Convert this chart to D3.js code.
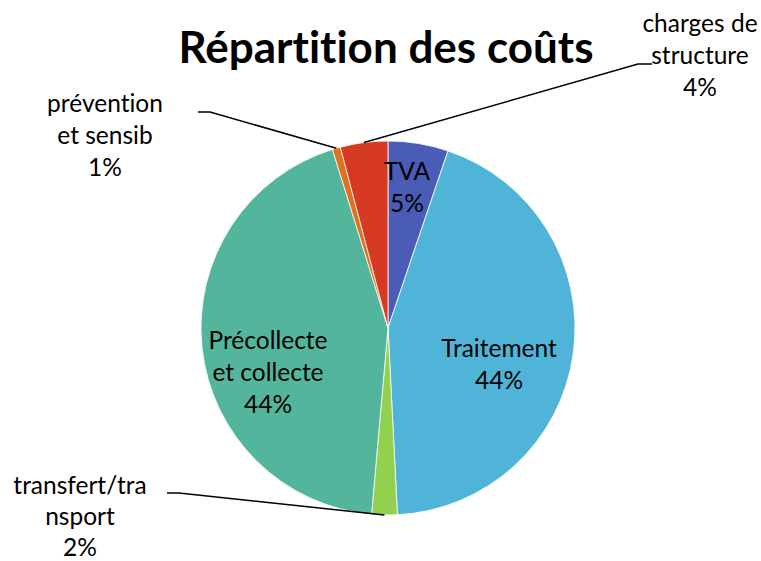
<!DOCTYPE html>
<html>
<head>
<meta charset="utf-8">
<script src="https://cdn.jsdelivr.net/npm/d3@7"></script>
<style>
  html, body { margin: 0; padding: 0; background: #ffffff; }
  svg { display: block; font-family: Lato, "Open Sans", sans-serif; font-variant-ligatures: none; }
</style>
</head>
<body>
<svg id="chart" width="761" height="561"></svg>
<script>
// Cost breakdown (percent of total), clockwise from 12 o'clock
const categories = ["TVA", "Traitement", "transfert/transport", "Précollecte et collecte", "prévention et sensib", "charges de structure"];
const values = [5.2, 44.0, 2.2, 43.8, 0.7, 4.1];
const colors = ["#4a5cb6", "#50b3d8", "#92d050", "#53b69c", "#e2711d", "#d63a20"];
// Label text as it wraps on the chart
const labelLines = [["TVA"], ["Traitement"], ["transfert/tra", "nsport"], ["Précollecte", "et collecte"], ["prévention", "et sensib"], ["charges de", "structure"]];
const title = "Répartition des coûts";

const svg = d3.select("#chart");
const cx = 388, cy = 328, radius = 187;
const lineH = 32;

svg.append("text")
  .attr("x", 386).attr("y", 63)
  .attr("text-anchor", "middle")
  .attr("font-size", 44).attr("font-weight", 700)
  .attr("fill", "#000")
  .text(title);

const data = categories.map((c, i) => ({ name: c, value: values[i], color: colors[i], lines: labelLines[i] }));

const pie = d3.pie().sort(null).value(d => d.value);
const arcs = pie(data);
const arc = d3.arc().innerRadius(0).outerRadius(radius);

const g = svg.append("g").attr("transform", `translate(${cx},${cy})`);

g.selectAll("path.slice")
  .data(arcs)
  .join("path")
  .attr("class", "slice")
  .attr("d", arc)
  .attr("fill", d => d.data.color)
  .attr("stroke", "#ffffff")
  .attr("stroke-width", 0.8);

// Label placement: inside for large slices, outside with leader lines for small ones
const placement = {
  "TVA": { x: 407, y: 180, inside: true },
  "Traitement": { x: 499, y: 357, inside: true },
  "Précollecte et collecte": { x: 268, y: 349, inside: true },
  "transfert/transport": { x: 80, y: 494, elbow: [179, 493], end: [167, 493] },
  "prévention et sensib": { x: 105, y: 112, elbow: [210, 112], end: [198, 112] },
  "charges de structure": { x: 700, y: 32, elbow: [638, 64], end: [652, 64] }
};

const edgeArc = d3.arc().innerRadius(radius).outerRadius(radius);

arcs.forEach(a => {
  const p = placement[a.data.name];
  if (!p.inside) {
    const [sx, sy] = edgeArc.centroid(a);
    svg.append("polyline")
      .attr("points", [[cx + sx, cy + sy], p.elbow, p.end].map(q => q.join(",")).join(" "))
      .attr("fill", "none")
      .attr("stroke", "#000")
      .attr("stroke-width", 1.5);
  }
  const t = svg.append("text")
    .attr("text-anchor", "middle")
    .attr("font-size", 24.5)
    .attr("fill", "#000");
  const lines = a.data.lines.concat([Math.round(a.data.value) + "%"]);
  lines.forEach((ln, i) => {
    t.append("tspan").attr("x", p.x).attr("y", p.y + i * (a.data.name === "transfert/transport" ? 31 : lineH)).text(ln);
  });
});
</script>
</body>
</html>
